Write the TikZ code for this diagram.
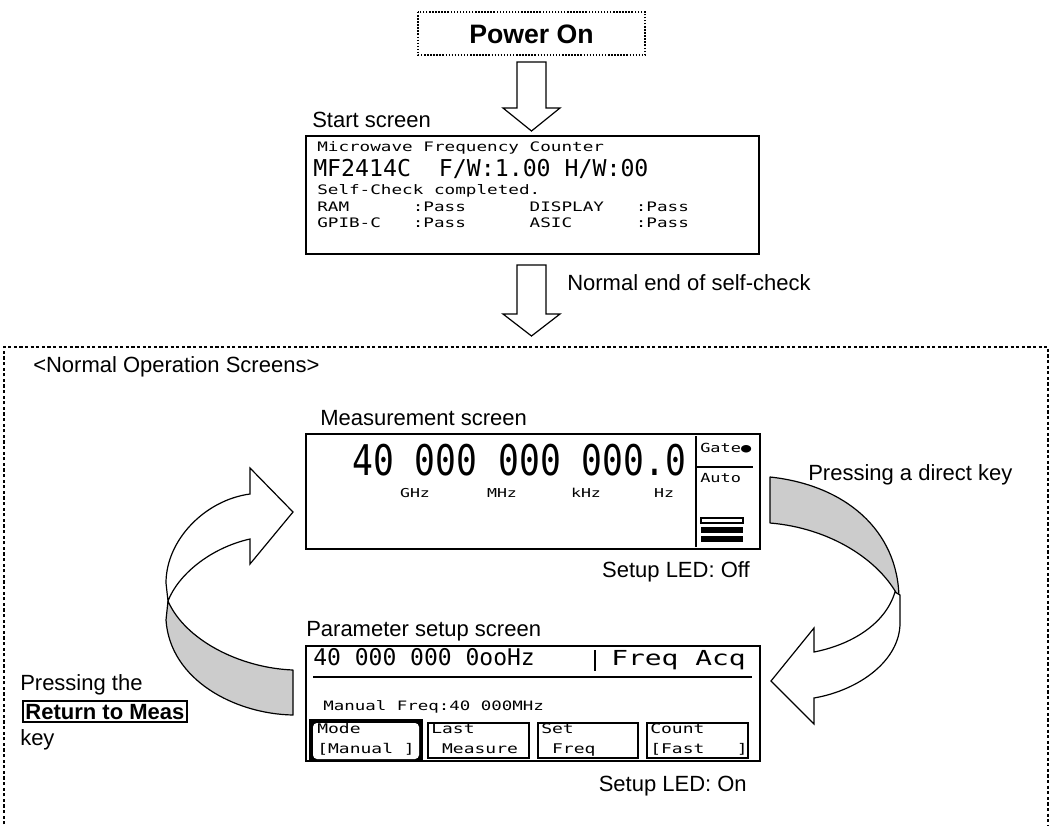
\documentclass[tikz,border=0pt]{standalone}
\usepackage{fontspec}
\usepackage{graphicx}
\setmainfont{Liberation Sans}
\newfontfamily\lcd[FakeStretch=1.35]{DejaVu Sans Mono}
\newfontfamily\lcdn{DejaVu Sans Mono}
\definecolor{bandgray}{RGB}{204,204,204}
\begin{document}
\begin{tikzpicture}[x=0.75pt,y=-0.75pt,
  lbl/.style={font=\fontsize{16.5}{19}\selectfont, inner sep=0pt, anchor=base west},
  lcds/.style={font=\lcd\fontsize{9.8}{12}\selectfont, inner sep=0pt, anchor=base west},
  units/.style={font=\lcd\fontsize{9.2}{11}\selectfont, inner sep=0pt, anchor=base},
  keyt/.style={font=\lcd\fontsize{10}{12}\selectfont, inner sep=0pt, anchor=base west},
  scr/.style={draw, line width=1.2pt},
  thin/.style={draw, line width=0.8pt},
  blk/.style={draw, line width=0.9pt, fill=white, line join=miter},
  band/.style={draw, line width=0.9pt, fill=bandgray, line join=round},
]
\useasboundingbox (0,0) rectangle (1053,825);
\clip (0,0) rectangle (1053,825);

% Power On
\draw[line width=1.1pt, dash pattern=on 1.1pt off 1.2pt] (418,12) rectangle (645,55);
\node[font=\bfseries\fontsize{20}{24}\selectfont, inner sep=0pt] (power) at (531.5,34) {Power On};
\draw[blk] (517,62) -- (546,62) -- (546,108) -- (560,108) -- (531.5,131) -- (503,108) -- (517,108) -- cycle;

% Start screen
\node[lbl] (startlbl) at (312,127) {Start screen};
\draw[scr] (306,136) rectangle (759,254);
\node[lcds] (s1) at (317,151) {Microwave~Frequency~Counter};
\node[font=\lcdn\fontsize{17.4}{20}\selectfont, inner sep=0pt, anchor=base west] (s2) at (313,176) {MF2414C~~F/W:1.00~H/W:00};
\node[lcds] (s3) at (317,194) {Self-Check~completed.};
\node[lcds] (s4) at (317,211) {RAM~~~~~~:Pass~~~~~~DISPLAY~~~:Pass};
\node[lcds] (s5) at (317,227) {GPIB-C~~~:Pass~~~~~~ASIC~~~~~~:Pass};

% arrow 2
\draw[blk] (517,265) -- (546,265) -- (546,314) -- (560,314) -- (531.5,336) -- (503,314) -- (517,314) -- cycle;
\node[lbl] (normend) at (567,290) {Normal end of self-check};

% outer frame
\draw[line width=2.2pt, dash pattern=on 2.4pt off 1.8pt] (4,830) -- (4,347) -- (1048,347) -- (1048,830);
\node[lbl] (normal) at (33,372) {<Normal Operation Screens>};

% Measurement screen
\node[lbl] (measlbl) at (320,425) {Measurement screen};
\draw[scr] (306,434) rectangle (760,549);
\draw[thin] (696,436) -- (696,547);
\draw[thin] (696,467) -- (753,467);
\node[font=\lcdn\fontsize{26}{30}\selectfont, inner sep=0pt, text depth=0pt, anchor=base west] (digits) at (352,475) {\scalebox{1}[1.22]{40~000~000~000.0}};
\node[units] (ghz) at (415,497) {GHz};
\node[units] (mhz) at (502,497) {MHz};
\node[units] (khz) at (586,497) {kHz};
\node[units] (hz) at (664,497) {Hz};
\node[keyt, font=\lcd\fontsize{9.4}{11}\selectfont] (gate) at (700,452) {Gate●};
\node[keyt, font=\lcd\fontsize{9.4}{11}\selectfont] (auto) at (700,482) {Auto};
\draw[thin] (701,518) rectangle (743,523);
\fill (701,527) rectangle (743,533);
\fill (701,536) rectangle (743,542);
\node[lbl, anchor=base east] (ledoff) at (750,577) {Setup LED: Off};

% Parameter setup screen
\node[lbl] (parlbl) at (306,636) {Parameter setup screen};
\draw[scr] (306,646) rectangle (760,761);
\node[font=\lcdn\fontsize{17.25}{20}\selectfont, inner sep=0pt, anchor=base west] (ptop) at (313,665) {40~000~000~0ooHz};
\draw[thin] (313,677) -- (752,677);
\draw[thin] (595,650) -- (595,671);
\node[font=\lcd\fontsize{15.5}{18}\selectfont, inner sep=0pt, anchor=base west] (pacq) at (611,665) {Freq~Acq};
\node[font=\lcd\fontsize{9.7}{12}\selectfont, inner sep=0pt, anchor=base west] (pman) at (323,710) {Manual~Freq:40~000MHz};
\fill (309,719) rectangle (423,761);
\fill[white, rounded corners=3pt] (313,723) rectangle (419,759);
\node[keyt] (mode1) at (317,733) {Mode};
\node[keyt] (mode2) at (317,753) {[Manual~]};
\draw[thin] (428,723) rectangle (529,758);
\node[keyt] (last1) at (431,733) {Last};
\node[keyt] (last2) at (431,753) {~Measure};
\draw[thin] (538,723) rectangle (638,758);
\node[keyt] (set1) at (541,733) {Set};
\node[keyt] (set2) at (541,753) {~Freq};
\draw[thin] (647,723) rectangle (748,758);
\node[keyt] (cnt1) at (650,733) {Count};
\node[keyt] (cnt2) at (650,753) {[Fast~~~]};
\node[lbl, anchor=base east] (ledon) at (747,791) {Setup LED: On};

% right curved arrow
\node[lbl] (direct) at (808,480) {Pressing a direct key};
\draw[band] (770,477) .. controls (845,485) and (898,530) .. (899,598)
   .. controls (880,560) and (830,528) .. (770,523) -- cycle;
\draw[blk] (895,592) .. controls (885,625) and (850,645) .. (814,652) -- (814,628) -- (771,681)
   -- (814,724) -- (814,698) .. controls (860,690) and (900,660) .. (900,623) -- (900,595) -- cycle;

% left curved arrow
\draw[blk] (250,494) -- (250,468) -- (293,512) -- (250,564) -- (250,539)
   .. controls (210,548) and (178,575) .. (168,601) -- (166,583)
   .. controls (166,540) and (205,500) .. (250,494) -- cycle;
\draw[band] (168,601) .. controls (185,640) and (240,668) .. (293,670) -- (293,715)
   .. controls (235,714) and (170,680) .. (166,620) -- cycle;

\node[lbl] (press1) at (20,690) {Pressing the};
\node[draw, line width=1.2pt, inner sep=2pt, font=\bfseries\fontsize{16.5}{19}\selectfont, anchor=base west] (rtm) at (22,719) {Return to Meas};
\node[lbl] (keyw) at (20,745) {key};
\end{tikzpicture}
\end{document}
